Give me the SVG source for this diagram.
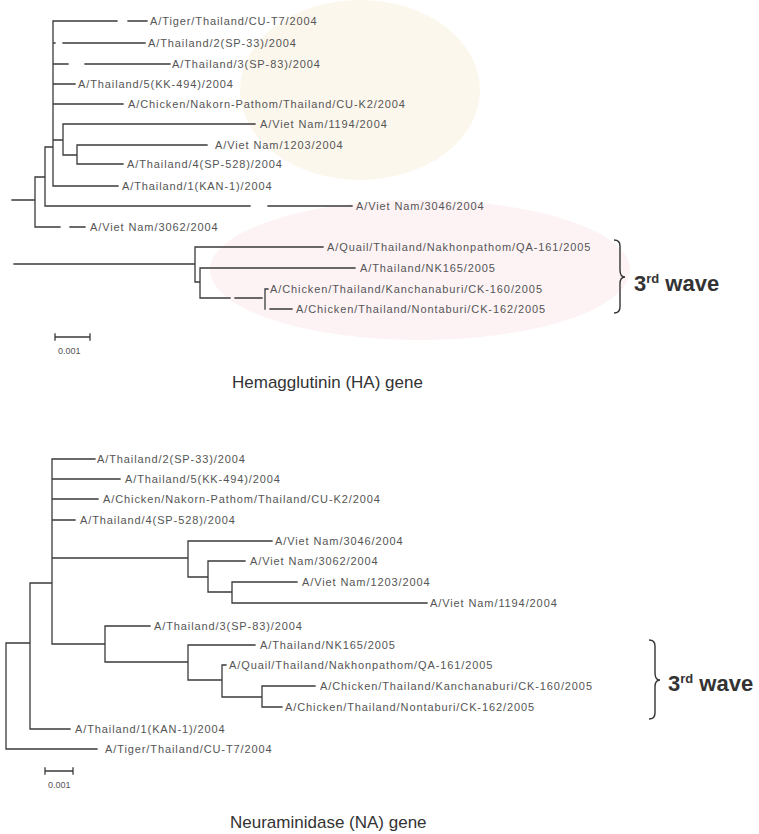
<svg xmlns="http://www.w3.org/2000/svg" width="759" height="834" viewBox="0 0 759 834">
<style>
.bg{fill:#ffffff}
.wm1{fill:#fbf3e6;opacity:0.7}
.wm2{fill:#fcf0f2;opacity:0.8}
.br{stroke:#3a3a3a;stroke-width:1.3;fill:none;stroke-linecap:square}
.lb{font-family:"Liberation Sans",Arial,sans-serif;font-size:11px;letter-spacing:0.9px;fill:#555}
.sc{font-family:"Liberation Sans",Arial,sans-serif;font-size:9px;fill:#555}
.wave{font-family:"Liberation Sans",Arial,sans-serif;font-size:22px;font-weight:bold;fill:#333}
.sup{font-size:13px}
.title{font-family:"Liberation Sans",Arial,sans-serif;font-size:17px;fill:#333}
.bk{stroke:#333;stroke-width:1.4;fill:none}
</style>
<rect class="bg" x="0" y="0" width="759" height="834"/>
<g id="watermark">
<ellipse class="wm1" cx="360" cy="90" rx="120" ry="90"/>
<ellipse class="wm2" cx="420" cy="270" rx="210" ry="70"/>
</g>

<g id="ha-tree">
<g id="ha-connectors">
<path class="br" d="M53 21V186 M53 21H117 M128 21H147 M53 43H55 M63 43H145 M53 64H68 M85 64H170 M53 84H75 M53 104H123 M53 140H63 M63 124V155 M63 124H255 M63 155H77 M77 145V164 M77 145H207 M77 164H123 M53 186H118 M45 147H53 M45 147V206 M45 206H250 M268 206H352 M35 177H45 M35 177V227 M35 227H60 M70 227H85 M12 200H35"/>
<path class="br" d="M14 264H195 M195 247V282 M195 247H323 M195 282H200 M200 268V298 M200 268H355 M200 298H230 M235 298H262 M265 289V309 M265 289H268 M270 309H292"/>
</g>
<g id="ha-n1"><text class="lb" x="150" y="25">A/Tiger/Thailand/CU-T7/2004</text></g>
<g id="ha-n2"><text class="lb" x="148" y="47">A/Thailand/2(SP-33)/2004</text></g>
<g id="ha-n3"><text class="lb" x="172" y="68">A/Thailand/3(SP-83)/2004</text></g>
<g id="ha-n4"><text class="lb" x="78" y="88">A/Thailand/5(KK-494)/2004</text></g>
<g id="ha-n5"><text class="lb" x="128" y="108">A/Chicken/Nakorn-Pathom/Thailand/CU-K2/2004</text></g>
<g id="ha-n6"><text class="lb" x="260" y="128">A/Viet Nam/1194/2004</text></g>
<g id="ha-n7"><text class="lb" x="215" y="149">A/Viet Nam/1203/2004</text></g>
<g id="ha-n8"><text class="lb" x="127" y="168">A/Thailand/4(SP-528)/2004</text></g>
<g id="ha-n9"><text class="lb" x="122" y="190">A/Thailand/1(KAN-1)/2004</text></g>
<g id="ha-n10"><text class="lb" x="356" y="210">A/Viet Nam/3046/2004</text></g>
<g id="ha-n11"><text class="lb" x="90" y="231">A/Viet Nam/3062/2004</text></g>
<g id="ha-n12"><text class="lb" x="327" y="251">A/Quail/Thailand/Nakhonpathom/QA-161/2005</text></g>
<g id="ha-n13"><text class="lb" x="360" y="272">A/Thailand/NK165/2005</text></g>
<g id="ha-n14"><text class="lb" x="270" y="293">A/Chicken/Thailand/Kanchanaburi/CK-160/2005</text></g>
<g id="ha-n15"><text class="lb" x="296" y="313">A/Chicken/Thailand/Nontaburi/CK-162/2005</text></g>
<g id="ha-wave">
<path class="bk" d="M614 240Q620 240 620 246V270Q620 277 625 277Q620 277 620 284V307Q620 313 614 313"/>
<text class="wave" x="634" y="291">3<tspan class="sup" dy="-8">rd</tspan><tspan dy="8"> wave</tspan></text>
</g>
<g id="ha-scale">
<path class="br" d="M55 337H90 M55 334V340 M90 334V340"/>
<text class="sc" x="58" y="354">0.001</text>
</g>
<g id="ha-title"><text class="title" x="232" y="388">Hemagglutinin (HA) gene</text></g>
</g>

<g id="na-tree">
<g id="na-connectors">
<path class="br" d="M52 459V644 M52 459H95 M52 479H120 M52 499H98 M52 520H75 M52 558H188 M188 541V577 M188 541H272 M188 577H208 M208 561V592 M208 561H245 M208 592H232 M232 582V603 M232 582H297 M232 603H427 M52 644H105 M105 626V662 M105 626H150 M105 662H188 M188 645V680 M188 645H255 M188 680H222 M222 665V697 M222 665H226 M222 697H262 M262 686V707 M262 686H315 M262 707H282 M30 583H52 M30 583V729 M30 729H70 M6 643H30 M6 643V749 M6 749H97"/>
</g>
<g id="na-n1"><text class="lb" x="97" y="463">A/Thailand/2(SP-33)/2004</text></g>
<g id="na-n2"><text class="lb" x="125" y="483">A/Thailand/5(KK-494)/2004</text></g>
<g id="na-n3"><text class="lb" x="103" y="503">A/Chicken/Nakorn-Pathom/Thailand/CU-K2/2004</text></g>
<g id="na-n4"><text class="lb" x="80" y="524">A/Thailand/4(SP-528)/2004</text></g>
<g id="na-n5"><text class="lb" x="275" y="545">A/Viet Nam/3046/2004</text></g>
<g id="na-n6"><text class="lb" x="250" y="565">A/Viet Nam/3062/2004</text></g>
<g id="na-n7"><text class="lb" x="302" y="586">A/Viet Nam/1203/2004</text></g>
<g id="na-n8"><text class="lb" x="430" y="607">A/Viet Nam/1194/2004</text></g>
<g id="na-n9"><text class="lb" x="154" y="630">A/Thailand/3(SP-83)/2004</text></g>
<g id="na-n10"><text class="lb" x="260" y="649">A/Thailand/NK165/2005</text></g>
<g id="na-n11"><text class="lb" x="229" y="669">A/Quail/Thailand/Nakhonpathom/QA-161/2005</text></g>
<g id="na-n12"><text class="lb" x="320" y="690">A/Chicken/Thailand/Kanchanaburi/CK-160/2005</text></g>
<g id="na-n13"><text class="lb" x="285" y="711">A/Chicken/Thailand/Nontaburi/CK-162/2005</text></g>
<g id="na-n14"><text class="lb" x="75" y="733">A/Thailand/1(KAN-1)/2004</text></g>
<g id="na-n15"><text class="lb" x="105" y="753">A/Tiger/Thailand/CU-T7/2004</text></g>
<g id="na-wave">
<path class="bk" d="M649 640Q655 640 655 646V673Q655 680 660 680Q655 680 655 687V713Q655 719 649 719"/>
<text class="wave" x="668" y="691">3<tspan class="sup" dy="-8">rd</tspan><tspan dy="8"> wave</tspan></text>
</g>
<g id="na-scale">
<path class="br" d="M45 771H73 M45 768V774 M73 768V774"/>
<text class="sc" x="48" y="788">0.001</text>
</g>
<g id="na-title"><text class="title" x="230" y="828">Neuraminidase (NA) gene</text></g>
</g>
</svg>
